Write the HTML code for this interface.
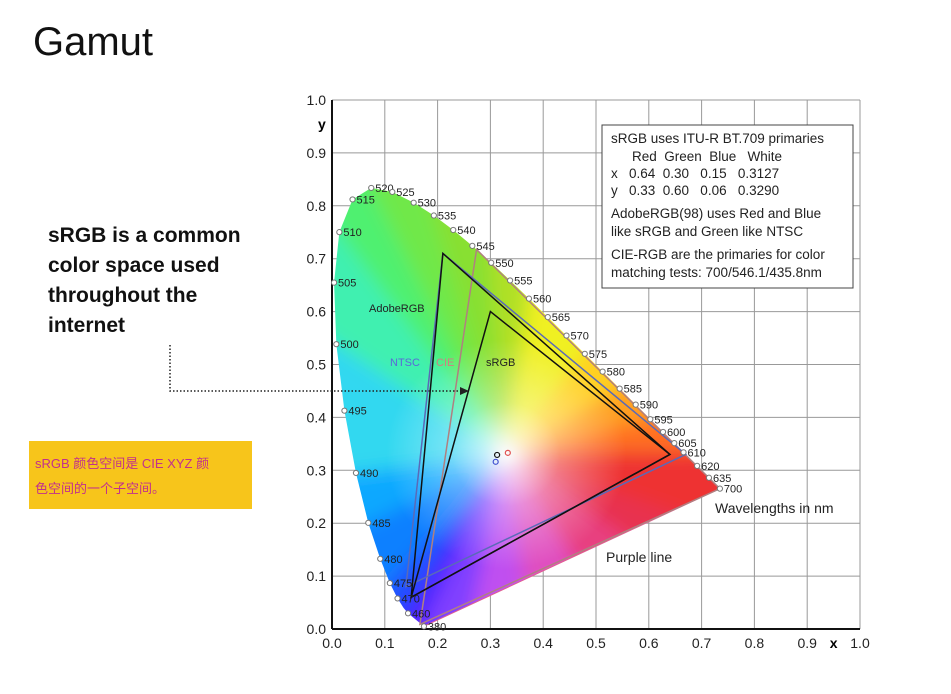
<!DOCTYPE html>
<html><head><meta charset="utf-8"><style>
body{margin:0;width:951px;height:694px;background:#fff;overflow:hidden;position:relative;font-family:"Liberation Sans","Noto Sans CJK SC",sans-serif}
.t{position:absolute}
</style></head><body>
<div class="t" style="left:33px;top:20px;font-size:40px;color:#111;font-weight:300">Gamut</div>
<div class="t" style="left:48px;top:221px;font-size:21px;font-weight:bold;line-height:30px;color:#111">sRGB is a common<br>color space used<br>throughout the<br>internet</div>
<div class="t" style="left:29px;top:441px;width:223px;height:68px;background:#f7c51b;box-sizing:border-box;padding:10px 6px;font-size:13px;line-height:25px;color:#c2308c;font-family:'Liberation Sans','Noto Sans CJK SC',sans-serif">sRGB 颜色空间是 CIE XYZ 颜<br>色空间的一个子空间。</div>
<svg id="c" width="951" height="694" style="position:absolute;left:0;top:0"></svg>
<script>
const wl=[380,460,465,470,475,480,485,490,495,500,505,510,515,520,525,530,535,540,545,550,555,560,565,570,575,580,585,590,595,600,605,610,615,620,625,630,635,640,650,700];
const lx=[.1741,.1440,.1355,.1241,.1096,.0913,.0687,.0454,.0235,.0082,.0039,.0139,.0389,.0743,.1142,.1547,.1929,.2296,.2658,.3016,.3373,.3731,.4087,.4441,.4788,.5125,.5448,.5752,.6029,.6270,.6482,.6658,.6801,.6915,.7006,.7079,.7140,.7190,.7260,.7347];
const ly=[.0050,.0297,.0399,.0578,.0868,.1327,.2007,.2950,.4127,.5384,.6548,.7502,.8120,.8338,.8262,.8059,.7816,.7543,.7243,.6923,.6589,.6245,.5896,.5547,.5202,.4866,.4544,.4242,.3965,.3725,.3514,.3340,.3197,.3083,.2993,.2920,.2859,.2809,.2740,.2653];
const labeled=[380,460,470,475,480,485,490,495,500,505,510,515,520,525,530,535,540,545,550,555,560,565,570,575,580,585,590,595,600,605,610,620,635,700];
const ticks=[0,.1,.2,.3,.4,.5,.6,.7,.8,.9,1];
const adobeX=[.64,.21,.15], adobeY=[.33,.71,.06];
const srgbX=[.64,.30,.15], srgbY=[.33,.60,.06];
const ntscX=[.67,.21,.14], ntscY=[.33,.71,.08];
const cieX=[.7347,.2738,.1666], cieY=[.2653,.7174,.0089];
const whiteX=[.3127,.31,.333], whiteY=[.329,.316,.333];
const X=v=>332+v*528, Y=v=>629-v*529;
const NS='http://www.w3.org/2000/svg';
const svg=document.getElementById('c');
function mk(tag,at,parent){const e=document.createElementNS(NS,tag);for(const k in at)e.setAttribute(k,at[k]);(parent||svg).appendChild(e);return e;}
const defs=mk('defs',{});
defs.innerHTML='<clipPath id="lc"><polygon id="lp"/></clipPath><filter id="bl" x="-20%" y="-20%" width="140%" height="140%"><feGaussianBlur stdDeviation="9"/></filter><radialGradient id="wg" cx="0.5" cy="0.5" r="0.5"><stop offset="0" stop-color="#fff" stop-opacity="0.95"/><stop offset="0.45" stop-color="#fff" stop-opacity="0.35"/><stop offset="1" stop-color="#fff" stop-opacity="0"/></radialGradient>';
ticks.forEach(t=>{
 let g=mk('line',{x1:X(t),x2:X(t),y1:Y(0),y2:Y(1),stroke:'#999','stroke-width':1});
 
 g=mk('line',{x1:X(0),x2:X(1),y1:Y(t),y2:Y(t),stroke:'#999','stroke-width':1});
 
 let l=mk('text',{x:X(t),y:Y(0)+19,'font-size':14,'text-anchor':'middle',fill:'#222'});l.textContent=t.toFixed(1);
 
 l=mk('text',{x:X(0)-6,y:Y(t)+5,'font-size':14,'text-anchor':'end',fill:'#222'});l.textContent=t.toFixed(1);
 
});
document.getElementById('lp').setAttribute('points',lx.map((v,i)=>X(v)+','+Y(ly[i])).join(' '));
const clipG=mk('g',{'clip-path':'url(#lc)'});

const fill=mk('g',{filter:'url(#bl)'},clipG);
function col(w){
 if(w<=380)return'#5020ff';if(w<=460)return'#2a30ff';if(w<=470)return'#2050ff';if(w<=480)return'#1080ff';if(w<=485)return'#10a8ff';
 if(w<=495)return'#30d8f0';if(w<=505)return'#40f0b0';if(w<=515)return'#50f070';if(w<=530)return'#70e848';if(w<=545)return'#88e030';
 if(w<=555)return'#b0e028';if(w<=570)return'#f0f020';if(w<=580)return'#ffd020';if(w<=590)return'#ffa020';if(w<=605)return'#ff7020';return'#ee3030';}
// polygon including purple line interior points
const PX=lx.slice(),PY=ly.slice(),PC=wl.map(col);
const pc=['#e83050','#e84080','#e050c0','#c050f0','#8040ff'];
pc.forEach((c,k)=>{const t=(k+1)/6;PX.push(.7347+(.1741-.7347)*t);PY.push(.2653+(.005-.2653)*t);PC.push(c);});
const wx=.33,wy=.33;
mk('polygon',{points:PX.map((v,i)=>X(v)+','+Y(PY[i])).join(' '),fill:'#ddd'},fill);
for(let i=0;i<PX.length;i++){
 const j=(i+1)%PX.length;
 const c=PC[i];
 const ex=[X(PX[i])+(X(PX[i])-X(wx))*.15,Y(PY[i])+(Y(PY[i])-Y(wy))*.15];
 const ey=[X(PX[j])+(X(PX[j])-X(wx))*.15,Y(PY[j])+(Y(PY[j])-Y(wy))*.15];
 mk('polygon',{points:`${X(wx)},${Y(wy)} ${ex[0]},${ex[1]} ${ey[0]},${ey[1]}`,fill:c,stroke:c,'stroke-width':1},fill);
}
mk('ellipse',{cx:X(.33),cy:Y(.33),rx:120,ry:115,fill:'url(#wg)'},clipG);
mk('line',{x1:X(.1741),y1:Y(.005),x2:X(.7347),y2:Y(.2653),stroke:'#e06090','stroke-width':1});
mk('line',{x1:X(0),x2:X(0),y1:Y(0),y2:Y(1),stroke:'#111','stroke-width':2});
mk('line',{x1:X(0),x2:X(1),y1:Y(0),y2:Y(0),stroke:'#111','stroke-width':2});
let ax=mk('text',{x:X(0)-14,y:Y(1)+29,'font-size':14,'font-weight':'bold'});ax.textContent='y';

ax=mk('text',{x:X(.95),y:Y(0)+19,'font-size':14,'font-weight':'bold','text-anchor':'middle'});ax.textContent='x';

function tri(xs,ys,stroke,w,name){const p=mk('polygon',{points:xs.map((v,i)=>X(v)+','+Y(ys[i])).join(' '),fill:'none',stroke:stroke,'stroke-width':w});
 }
tri(cieX,cieY,'#b08080',1.5,'cie-rgb-gamut');
tri(ntscX,ntscY,'#5a6ab8',1.5,'ntsc-gamut');
tri(adobeX,adobeY,'#111',1.5,'adobergb-gamut');
tri(srgbX,srgbY,'#111',1.5,'srgb-gamut');
const wc=['#111','#4050d0','#e05050'];
whiteX.forEach((v,i)=>{const c=mk('circle',{cx:X(v),cy:Y(whiteY[i]),r:2.5,fill:'none',stroke:wc[i],'stroke-width':1.2});
 });
labeled.forEach(w=>{const i=wl.indexOf(w);
 const m=mk('circle',{cx:X(lx[i]),cy:Y(ly[i]),r:2.6,fill:'#fff',stroke:'#777','stroke-width':1});
 
 const t=mk('text',{x:X(lx[i])+4,y:Y(ly[i])+4,'font-size':11,fill:'#222'});t.textContent=w;
 });
function lab(x,y,s,txt,c,name){const t=mk('text',{x:x,y:y,'font-size':s,fill:c});t.textContent=txt;}
lab(369,312,11,'AdobeRGB','#222','adobergb-label');
lab(390,366,11,'NTSC','#5a6ad8','ntsc-label');
lab(436,366,11,'CIE','#d08080','cie-label');
lab(486,366,11,'sRGB','#222','srgb-label');
lab(715,513,14,'Wavelengths in nm','#222','wavelength-note');
lab(606,562,14,'Purple line','#222','purple-line-label');
const lg=mk('g',{});
mk('rect',{x:602,y:125,width:251,height:163,fill:'#fff',stroke:'#444','stroke-width':1},lg);
[['sRGB uses ITU-R BT.709 primaries',611,143],['Red  Green  Blue   White',632,161],['x   0.64  0.30   0.15   0.3127',611,178],['y   0.33  0.60   0.06   0.3290',611,195],['AdobeRGB(98) uses Red and Blue',611,218],['like sRGB and Green like NTSC',611,236],['CIE-RGB are the primaries for color',611,259],['matching tests: 700/546.1/435.8nm',611,277]].forEach(a=>{
 const t=mk('text',{x:a[1],y:a[2],'font-size':13.5,fill:'#222'},lg);t.textContent=a[0];t.setAttribute('style','white-space:pre');});
const ar=mk('g',{});
mk('polyline',{points:'170,345 170,391 462,391',fill:'none',stroke:'#222','stroke-width':1.5,'stroke-dasharray':'1.5,2'},ar);
mk('polygon',{points:'469,391 460,387 460,395',fill:'#222'},ar);
</script>
</body></html>
